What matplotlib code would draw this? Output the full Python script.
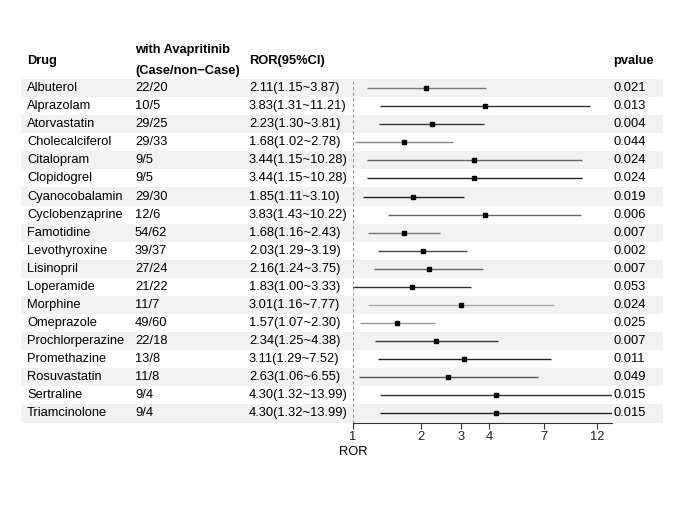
import matplotlib.pyplot as plt
from matplotlib.patches import Rectangle
from matplotlib.transforms import blended_transform_factory

plt.rcParams['font.family'] = ['Liberation Sans', 'DejaVu Sans']

# table data
drugs = ["Albuterol", "Alprazolam", "Atorvastatin", "Cholecalciferol", "Citalopram",
         "Clopidogrel", "Cyanocobalamin", "Cyclobenzaprine", "Famotidine", "Levothyroxine",
         "Lisinopril", "Loperamide", "Morphine", "Omeprazole", "Prochlorperazine",
         "Promethazine", "Rosuvastatin", "Sertraline", "Triamcinolone"]
cases = ["22/20", "10/5", "29/25", "29/33", "9/5", "9/5", "29/30", "12/6", "54/62", "39/37",
         "27/24", "21/22", "11/7", "49/60", "22/18", "13/8", "11/8", "9/4", "9/4"]
ror = [2.11, 3.83, 2.23, 1.68, 3.44, 3.44, 1.85, 3.83, 1.68, 2.03,
       2.16, 1.83, 3.01, 1.57, 2.34, 3.11, 2.63, 4.30, 4.30]
lower = [1.15, 1.31, 1.30, 1.02, 1.15, 1.15, 1.11, 1.43, 1.16, 1.29,
         1.24, 1.00, 1.16, 1.07, 1.25, 1.29, 1.06, 1.32, 1.32]
upper = [3.87, 11.21, 3.81, 2.78, 10.28, 10.28, 3.10, 10.22, 2.43, 3.19,
         3.75, 3.33, 7.77, 2.30, 4.38, 7.52, 6.55, 13.99, 13.99]
pvalues = ["0.021", "0.013", "0.004", "0.044", "0.024", "0.024", "0.019", "0.006", "0.007", "0.002",
           "0.007", "0.053", "0.024", "0.025", "0.007", "0.011", "0.049", "0.015", "0.015"]
ticks = [1, 2, 3, 4, 7, 12]

# line shades seen in the picture
line_grey = ["#777777", "#333333", "#333333", "#888888", "#666666", "#222222", "#222222",
             "#666666", "#777777", "#444444", "#666666", "#333333", "#aaaaaa", "#999999",
             "#333333", "#222222", "#555555", "#333333", "#222222"]

W, H = 685, 514
FS = 9.3
fig = plt.figure(figsize=(W / 100, H / 100), dpi=100)

def fx(px):
    return px / W

def fy(py):
    return 1 - py / H

n = len(drugs)
# forest panel: x from 353 to 612 px, rows from 79 to 422 px
ax = fig.add_axes([fx(353), fy(422.5), fx(612) - fx(353), fy(79) - fy(422.5)])
ax.set_xscale('log')
ax.set_xlim(1, 13.99)
ax.set_ylim(n - 0.5, -0.5)
ax.patch.set_visible(False)

tr = blended_transform_factory(fig.transFigure, ax.transData)

# striped rows
for i in range(n):
    if i % 2 == 0:
        ax.add_patch(Rectangle((fx(21), i - 0.5), fx(663) - fx(21), 1, transform=tr,
                               facecolor="#f2f2f2", edgecolor="none", clip_on=False, zorder=0))

# reference line
ax.axvline(1, color="#999999", ls=(0, (3, 2)), lw=0.8, zorder=1)

for i in range(n):
    ax.plot([lower[i], upper[i]], [i, i], color=line_grey[i], lw=1.0, zorder=2,
            solid_capstyle='butt')
    ax.plot(ror[i], i, marker='s', ms=3.3, color="black", zorder=3)
    ax.text(fx(27), i, drugs[i], transform=tr, fontsize=FS, va='center', ha='left')
    ax.text(fx(135), i, cases[i], transform=tr, fontsize=FS, va='center', ha='left')
    ax.text(fx(249), i, f"{ror[i]:.2f}({lower[i]:.2f}~{upper[i]:.2f})", transform=tr,
            fontsize=FS, va='center', ha='left')
    ax.text(fx(613), i, pvalues[i], transform=tr, fontsize=FS, va='center', ha='left')

# headers
fig.text(fx(27), fy(61), "Drug", fontsize=FS, fontweight='bold', va='center')
fig.text(fx(135), fy(50), "with Avapritinib", fontsize=FS, fontweight='bold', va='center')
fig.text(fx(135), fy(71), "(Case/non\u2212Case)", fontsize=FS, fontweight='bold', va='center')
fig.text(fx(249), fy(61), "ROR(95%CI)", fontsize=FS, fontweight='bold', va='center')
fig.text(fx(613), fy(61), "pvalue", fontsize=FS, fontweight='bold', va='center')

for s in ['top', 'right', 'left']:
    ax.spines[s].set_visible(False)
ax.spines['bottom'].set_color("#333333")
ax.spines['bottom'].set_linewidth(0.8)
ax.set_yticks([])
ax.set_xticks(ticks)
ax.set_xticklabels([str(t) for t in ticks])
ax.minorticks_off()
ax.tick_params(axis='x', labelsize=FS, length=4, width=0.8, color="#333333",
               labelcolor="#222222", pad=2)
ax.text(1, fy(452), "ROR", transform=blended_transform_factory(ax.transData, fig.transFigure),
        fontsize=FS, ha='center', va='center')

fig.savefig("out.png", dpi=100)
